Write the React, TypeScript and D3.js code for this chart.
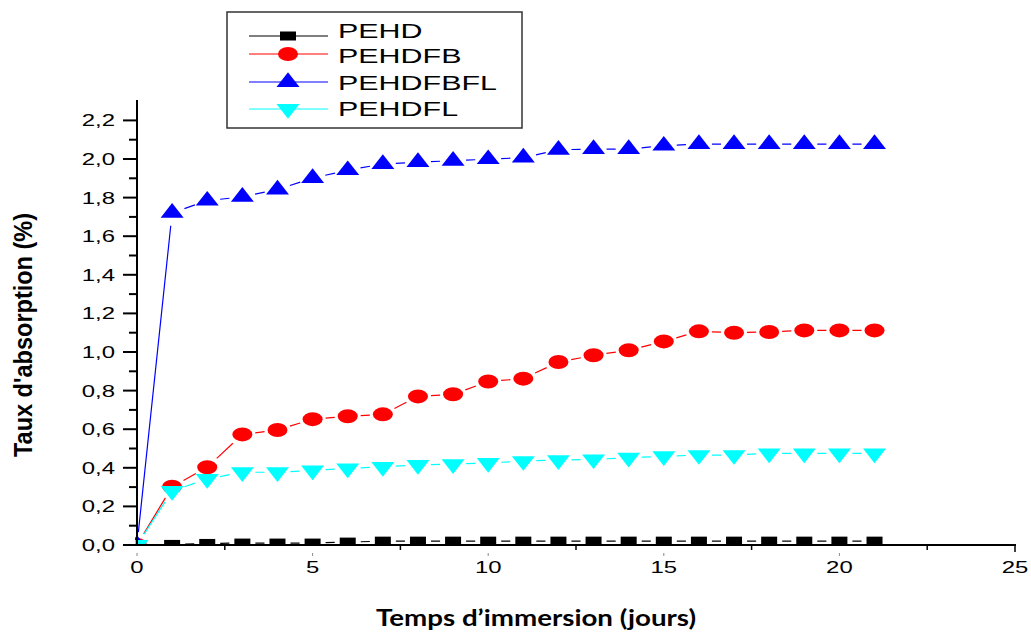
import React from "react";
import * as d3 from "d3";

const days = d3.range(0, 22);
const PEHD = [0, 0.003, 0.008, 0.01, 0.01, 0.01, 0.015, 0.02, 0.02, 0.02, 0.02, 0.02, 0.02, 0.02, 0.02, 0.02, 0.02, 0.02, 0.02, 0.02, 0.02, 0.02];
const PEHDFB = [0, 0.302, 0.403, 0.573, 0.596, 0.652, 0.667, 0.677, 0.77, 0.781, 0.847, 0.862, 0.948, 0.983, 1.009, 1.055, 1.107, 1.1, 1.104, 1.112, 1.112, 1.112];
const PEHDFBFL = [0, 1.721, 1.784, 1.804, 1.842, 1.901, 1.942, 1.974, 1.984, 1.991, 1.999, 2.007, 2.048, 2.051, 2.051, 2.069, 2.077, 2.077, 2.077, 2.077, 2.077, 2.077];
const PEHDFL = [0, 0.28, 0.342, 0.377, 0.377, 0.386, 0.397, 0.405, 0.415, 0.419, 0.425, 0.435, 0.44, 0.444, 0.452, 0.46, 0.466, 0.466, 0.475, 0.475, 0.475, 0.475];

const seriesNames = ["PEHD", "PEHDFB", "PEHDFBFL", "PEHDFL"];
const seriesColors = ["#000000", "#ff0000", "#0000ff", "#00ffff"];
const seriesSymbols = ["square", "circle", "up", "down"];
const seriesValues = [PEHD, PEHDFB, PEHDFBFL, PEHDFL];

const xTicks = [0, 5, 10, 15, 20, 25];
const xMinorTicks = [2.5, 7.5, 12.5, 17.5, 22.5];
const yTicks = [0, 0.2, 0.4, 0.6, 0.8, 1.0, 1.2, 1.4, 1.6, 1.8, 2.0, 2.2];
const yMinorTicks = [0.1, 0.3, 0.5, 0.7, 0.9, 1.1, 1.3, 1.5, 1.7, 1.9, 2.1];

const xTitle = "Temps d\u2019immersion (jours)";
const yTitle = "Taux d'absorption (%)";

const SX = 1.45;
const FONT = "'Liberation Sans', Arial, Helvetica, sans-serif";

const x = d3.scaleLinear().domain([0, 25]).range([137, 1015]);
const y = d3.scaleLinear().domain([0, 2.3]).range([545, 545 - 2.3 * 193]);

function Marker({ type, cx, cy, color }: { type: string; cx: number; cy: number; color: string }) {
  if (type === "square") return <rect x={cx - 8} y={cy - 4.5} width={16} height={9} fill={color} />;
  if (type === "circle") return <ellipse cx={cx} cy={cy} rx={10} ry={7} fill={color} />;
  const w = 11.5;
  const h = 14.7;
  if (type === "up") {
    return <path d={`M${cx},${cy - (2 * h) / 3}L${cx + w},${cy + h / 3}L${cx - w},${cy + h / 3}Z`} fill={color} />;
  }
  return <path d={`M${cx},${cy + (2 * h) / 3}L${cx + w},${cy - h / 3}L${cx - w},${cy - h / 3}Z`} fill={color} />;
}

function gappedSegments(pts: [number, number][], gap: number) {
  const segs: string[] = [];
  for (let i = 0; i < pts.length - 1; i++) {
    const [x1, y1] = pts[i];
    const [x2, y2] = pts[i + 1];
    const dx = x2 - x1;
    const dy = y2 - y1;
    const L = Math.hypot(dx, dy);
    if (L <= 2 * gap) continue;
    const ux = dx / L;
    const uy = dy / L;
    segs.push(`M${x1 + ux * gap},${y1 + uy * gap}L${x2 - ux * gap},${y2 - uy * gap}`);
  }
  return segs.join("");
}

function SText({ x0, y0, anchor, size, children, weight }: any) {
  return (
    <text
      transform={`translate(${x0},${y0}) scale(${SX},1)`}
      textAnchor={anchor}
      fontSize={size}
      fontFamily={FONT}
      fontWeight={weight || "normal"}
      fill="#000"
    >
      {children}
    </text>
  );
}

const legendLineY = [36, 54, 82, 109];
const legendTextY = [38, 63, 90, 116];

export default function App() {
  return (
    <svg width={1031} height={634} style={{ position: "absolute", left: 0, top: 0, background: "#fff" }}>
      <defs>
        <clipPath id="plotClip">
          <rect x={135} y={90} width={890} height={455.5} />
        </clipPath>
      </defs>
      <rect x={0} y={0} width={1031} height={634} fill="#fff" />

      {/* data */}
      <g clipPath="url(#plotClip)">
        {seriesValues.map((vals, si) => {
          const pts: [number, number][] = vals.map((v, i) => [x(days[i]), y(v)]);
          return (
            <g key={si}>
              <path d={gappedSegments(pts, 13)} stroke={seriesColors[si]} strokeWidth={1.2} fill="none" />
              {pts.map((p, i) => (
                <Marker key={i} type={seriesSymbols[si]} cx={p[0]} cy={p[1]} color={seriesColors[si]} />
              ))}
            </g>
          );
        })}
      </g>

      {/* y axis */}
      <line x1={137} x2={137} y1={100} y2={546} stroke="#000" strokeWidth={2} />
      {yTicks.map((t) => (
        <g key={t}>
          <line x1={123} x2={137} y1={y(t)} y2={y(t)} stroke="#000" strokeWidth={2} />
          <SText x0={115} y0={y(t) + 6} anchor="end" size={16.5}>
            {t.toFixed(1).replace(".", ",")}
          </SText>
        </g>
      ))}
      {yMinorTicks.map((t) => (
        <line key={t} x1={129} x2={137} y1={y(t)} y2={y(t)} stroke="#000" strokeWidth={2} />
      ))}

      {/* x axis */}
      <line x1={136} x2={1016} y1={545} y2={545} stroke="#000" strokeWidth={2} />
      {xMinorTicks.map((t) => (
        <line key={t} x1={x(t)} x2={x(t)} y1={545} y2={550} stroke="#000" strokeWidth={1.5} />
      ))}
      {xTicks.map((t) => (
        <g key={t}>
          {t === 25 ? (
            <line x1={x(t)} x2={x(t)} y1={545} y2={552} stroke="#000" strokeWidth={1.5} />
          ) : (
            <line x1={x(t)} x2={x(t)} y1={553} y2={556} stroke="#888" strokeWidth={1} />
          )}
          <SText x0={x(t)} y0={573} anchor="middle" size={16.5}>
            {String(t)}
          </SText>
        </g>
      ))}

      {/* axis titles */}
      <text
        transform="translate(32,335) rotate(-90)"
        textAnchor="middle"
        fontSize={25}
        fontWeight="bold"
        fontFamily={FONT}
        textLength={244}
        lengthAdjust="spacingAndGlyphs"
      >
        {yTitle}
      </text>
      <text
        x={536}
        y={626}
        textAnchor="middle"
        fontSize={23}
        fontWeight="bold"
        fontFamily="Lato, 'Open Sans', sans-serif"
        textLength={320}
        lengthAdjust="spacingAndGlyphs"
      >
        {xTitle}
      </text>

      {/* legend */}
      <rect x={227} y={12} width={295} height={116} fill="#fff" stroke="#333" strokeWidth={1.5} />
      {seriesNames.map((name, i) => (
        <g key={name}>
          <line x1={249} x2={328} y1={legendLineY[i]} y2={legendLineY[i]} stroke={seriesColors[i]} strokeWidth={1.2} />
          <Marker type={seriesSymbols[i]} cx={288} cy={legendLineY[i]} color={seriesColors[i]} />
          <SText x0={338} y0={legendTextY[i]} anchor="start" size={21}>
            {name}
          </SText>
        </g>
      ))}
    </svg>
  );
}
